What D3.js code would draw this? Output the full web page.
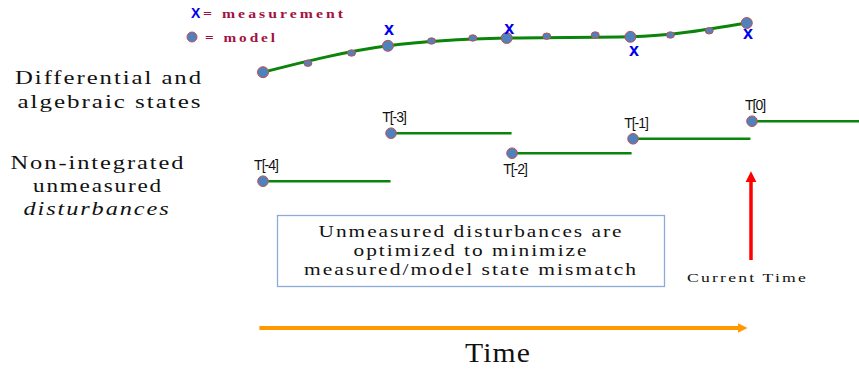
<!DOCTYPE html>
<html>
<head>
<meta charset="utf-8">
<script src="https://cdn.jsdelivr.net/npm/d3@7"></script>
<style>
  body { margin: 0; background: #fff; }
  svg { display: block; }
</style>
</head>
<body>
<div id="chart"></div>
<script>
// ---- data (time in horizon units, states scaled 0..1) ----
var nodeTimes   = [0, 1.03, 2.01, 3.03, 3.99];
var nodeStates  = [0.13, 0.57, 0.70, 0.72, 0.95];
var colloTimes  = [0.37, 0.73, 1.39, 1.73, 2.34, 2.74, 3.36, 3.68];
var colloStates = [0.28, 0.45, 0.65, 0.70, 0.73, 0.75, 0.75, 0.82];
var measTimes   = [1.04, 2.03, 3.06, 4.0];
var measStates  = [0.83, 0.85, 0.48, 0.77];

var distLabels = ["T[-4]", "T[-3]", "T[-2]", "T[-1]", "T[0]"];
var distStart  = [0, 1.056, 2.054, 3.052, 4.033];
var distEnd    = [1.052, 2.05, 3.04, 4.02, 4.95];
var distValues = [0.11, 0.71, 0.46, 0.64, 0.86];
var labelBelow = [false, false, true, false, false];

var W = 859, H = 369;

var svg = d3.select("#chart").append("svg")
    .attr("width", W)
    .attr("height", H);

var x = d3.scaleLinear().domain([0, 4]).range([263, 748]);
var yState = d3.scaleLinear().domain([0, 1]).range([80, 20]);
var yDist = d3.scaleLinear().domain([0, 1]).range([190, 110]);

var green = "#0a840a", dotFill = "#4f81bd", dotStroke = "#c0504d";
var serif = "'Liberation Serif', 'Times New Roman', serif";
var sans = "'Liberation Sans', Arial, sans-serif";

// stretched text helper (the source picture is widened horizontally)
function stretched(sel, w, spacing) {
  return sel.attr("textLength", w)
    .attr("lengthAdjust", "spacingAndGlyphs")
    .style("letter-spacing", spacing + "px");
}

// legend
svg.append("text")
    .attr("x", 191).attr("y", 18)
    .style("font-family", sans).style("font-weight", "bold")
    .style("font-size", "14px").attr("fill", "#0000ee")
    .text("X");
svg.append("text")
    .attr("x", 203).attr("y", 18)
    .call(stretched, 143, 2.5)
    .style("font-family", serif).style("font-weight", "bold")
    .style("font-size", "13px").attr("fill", "#a3123f")
    .text("= measurement");
svg.append("circle")
    .attr("cx", 192).attr("cy", 37).attr("r", 5)
    .attr("fill", dotFill).attr("stroke", dotStroke).attr("stroke-width", 1);
svg.append("text")
    .attr("x", 205).attr("y", 42)
    .call(stretched, 73, 2.5)
    .style("font-family", serif).style("font-weight", "bold")
    .style("font-size", "13px").attr("fill", "#a3123f")
    .text("= model");

// left row labels
var rowLabels = [
  { t: "Differential and", y: 84, w: 188, cx: 109, italic: false },
  { t: "algebraic states", y: 108, w: 185, cx: 110, italic: false },
  { t: "Non-integrated", y: 169, w: 175, cx: 98, italic: false },
  { t: "unmeasured", y: 192, w: 130, cx: 98, italic: false },
  { t: "disturbances", y: 215, w: 147, cx: 97, italic: true }
];
svg.selectAll(".rowlab")
    .data(rowLabels)
  .enter().append("text")
    .attr("class", "rowlab")
    .attr("x", function(d) { return d.cx - d.w / 2; })
    .attr("y", function(d) { return d.y; })
    .each(function(d) { d3.select(this).call(stretched, d.w, 1.5); })
    .style("font-family", serif)
    .style("font-size", "19px")
    .style("font-style", function(d) { return d.italic ? "italic" : "normal"; })
    .attr("fill", "#111")
    .text(function(d) { return d.t; });

// state trajectory through the finite element nodes
var nodePts = nodeTimes.map(function(t, i) { return [t, nodeStates[i]]; });

var line = d3.line()
    .x(function(d) { return x(d[0]); })
    .y(function(d) { return yState(d[1]); })
    .curve(d3.curveMonotoneX);

svg.append("path")
    .datum(nodePts)
    .attr("d", line)
    .attr("fill", "none")
    .attr("stroke", green)
    .attr("stroke-width", 3);

svg.selectAll(".collo")
    .data(colloTimes)
  .enter().append("ellipse")
    .attr("class", "collo")
    .attr("cx", function(d) { return x(d); })
    .attr("cy", function(d, i) { return yState(colloStates[i]); })
    .attr("rx", 4).attr("ry", 3.2)
    .attr("fill", dotFill).attr("stroke", dotStroke).attr("stroke-width", 1);

svg.selectAll(".node")
    .data(nodeTimes)
  .enter().append("circle")
    .attr("class", "node")
    .attr("cx", function(d) { return x(d); })
    .attr("cy", function(d, i) { return yState(nodeStates[i]); })
    .attr("r", 5.5)
    .attr("fill", dotFill).attr("stroke", dotStroke).attr("stroke-width", 1);

svg.selectAll(".meas")
    .data(measTimes)
  .enter().append("text")
    .attr("class", "meas")
    .attr("x", function(d) { return x(d); })
    .attr("y", function(d, i) { return yState(measStates[i]) + 5; })
    .attr("text-anchor", "middle")
    .style("font-family", sans).style("font-weight", "bold")
    .style("font-size", "18px").attr("fill", "#0000ee")
    .text("x");

// disturbance steps
var steps = svg.selectAll(".step")
    .data(distValues)
  .enter().append("g")
    .attr("class", "step");

steps.append("line")
    .attr("x1", function(d, i) { return x(distStart[i]); })
    .attr("x2", function(d, i) { return x(distEnd[i]); })
    .attr("y1", function(d) { return yDist(d); })
    .attr("y2", function(d) { return yDist(d); })
    .attr("stroke", green)
    .attr("stroke-width", 2.6);

steps.append("circle")
    .attr("cx", function(d, i) { return x(distStart[i]); })
    .attr("cy", function(d) { return yDist(d); })
    .attr("r", 5.3)
    .attr("fill", dotFill).attr("stroke", dotStroke).attr("stroke-width", 1);

steps.append("text")
    .attr("x", function(d, i) { return x(distStart[i]) + 3; })
    .attr("y", function(d, i) { return yDist(d) + (labelBelow[i] ? 21 : -11); })
    .attr("text-anchor", "middle")
    .style("font-family", sans)
    .style("font-size", "14px")
    .style("letter-spacing", "-1px")
    .attr("fill", "#111")
    .text(function(d, i) { return distLabels[i]; });

// text box
svg.append("rect")
    .attr("x", 277.5).attr("y", 215.5)
    .attr("width", 387).attr("height", 71)
    .attr("fill", "#fff")
    .attr("stroke", "#8eaad8").attr("stroke-width", 1.3);

var boxLines = [
  { t: "Unmeasured disturbances are", y: 237, w: 305 },
  { t: "optimized to minimize", y: 256, w: 235 },
  { t: "measured/model state mismatch", y: 275, w: 334 }
];
svg.selectAll(".boxline")
    .data(boxLines)
  .enter().append("text")
    .attr("class", "boxline")
    .attr("x", function(d) { return 471 - d.w / 2; })
    .attr("y", function(d) { return d.y; })
    .each(function(d) { d3.select(this).call(stretched, d.w, 1.5); })
    .style("font-family", serif)
    .style("font-size", "16px")
    .attr("fill", "#111")
    .text(function(d) { return d.t; });

// arrows
var defs = svg.append("defs");
defs.append("marker")
    .attr("id", "redHead")
    .attr("viewBox", "0 0 10 10")
    .attr("refX", 2).attr("refY", 5)
    .attr("markerUnits", "userSpaceOnUse")
    .attr("markerWidth", 11).attr("markerHeight", 15)
    .attr("orient", "auto")
  .append("path")
    .attr("d", "M0,0 L10,5 L0,10 Z")
    .attr("fill", "#ff0000");
defs.append("marker")
    .attr("id", "orangeHead")
    .attr("viewBox", "0 0 10 10")
    .attr("refX", 2).attr("refY", 5)
    .attr("markerUnits", "userSpaceOnUse")
    .attr("markerWidth", 10).attr("markerHeight", 12)
    .attr("orient", "auto")
  .append("path")
    .attr("d", "M0,0 L10,5 L0,10 Z")
    .attr("fill", "#ff9900");

var nowX = x(distStart[4]) - 1;
svg.append("line")
    .attr("x1", nowX).attr("x2", nowX)
    .attr("y1", 260).attr("y2", 180)
    .attr("stroke", "#ff0000").attr("stroke-width", 3.5)
    .attr("marker-end", "url(#redHead)");

svg.append("text")
    .attr("x", 687).attr("y", 282)
    .call(stretched, 121, 1.5)
    .style("font-family", serif)
    .style("font-size", "12px")
    .attr("fill", "#111")
    .text("Current Time");

svg.append("line")
    .attr("x1", x(-0.03)).attr("x2", x(3.93))
    .attr("y1", 328).attr("y2", 328)
    .attr("stroke", "#ff9900").attr("stroke-width", 4)
    .attr("marker-end", "url(#orangeHead)");

svg.append("text")
    .attr("x", 465).attr("y", 362)
    .call(stretched, 66, 1)
    .style("font-family", serif)
    .style("font-size", "27px")
    .attr("fill", "#111")
    .text("Time");
</script>
</body>
</html>
